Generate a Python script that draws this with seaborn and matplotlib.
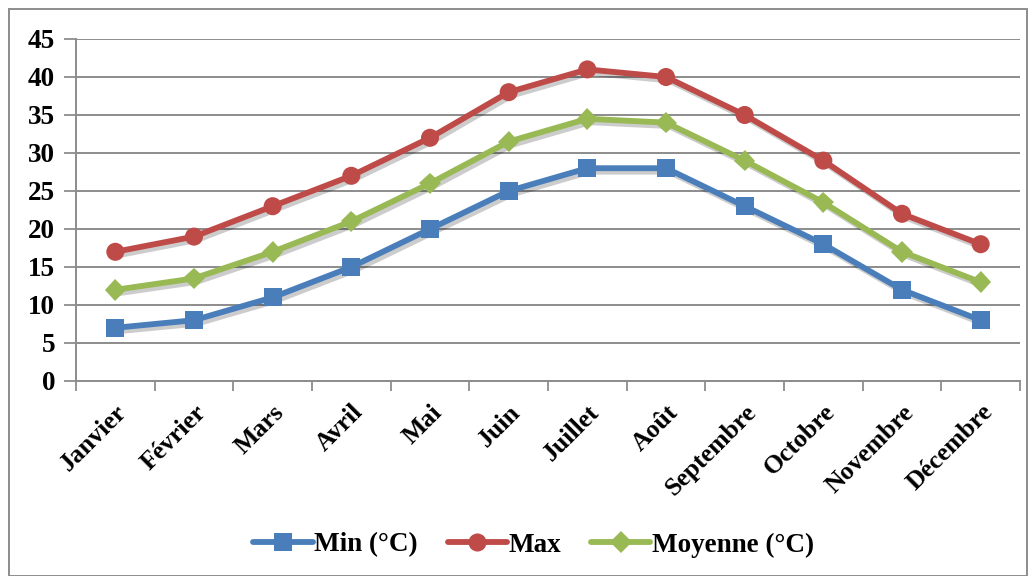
import matplotlib
matplotlib.use("Agg")
import matplotlib.pyplot as plt
import matplotlib.patheffects as pe
from matplotlib.patches import Rectangle
from matplotlib.lines import Line2D
import numpy as np
import pandas as pd
import seaborn as sns

months = ["Janvier", "Février", "Mars", "Avril", "Mai", "Juin", "Juillet",
          "Août", "Septembre", "Octobre", "Novembre", "Décembre"]
t_min = [7, 8, 11, 15, 20, 25, 28, 28, 23, 18, 12, 8]
t_max = [17, 19, 23, 27, 32, 38, 41, 40, 35, 29, 22, 18]
t_moy = [12, 13.5, 17, 21, 26, 31.5, 34.5, 34, 29, 23.5, 17, 13]
series_names = ["Min (°C)", "Max", "Moyenne (°C)"]
y_ticks = [0, 5, 10, 15, 20, 25, 30, 35, 40, 45]

sns.set_theme(style="white")
plt.rcParams['font.family'] = ['Liberation Serif', 'DejaVu Serif']
plt.rcParams['font.weight'] = 'bold'
plt.rcParams['text.color'] = 'black'
plt.rcParams['xtick.color'] = 'black'
plt.rcParams['ytick.color'] = 'black'

fig = plt.figure(figsize=(10.36, 5.76), dpi=100)
ax = fig.add_axes([76/1036, 1-381/576, (1020-76)/1036, (381-39)/576])

colors = ["#4A7EBB", "#BE4B48", "#98B954"]
markers = ["s", "o", "D"]
msizes = [13, 13, 11]
pos = np.arange(len(months))
shadow = [pe.SimpleLineShadow(offset=(2, -2.5), shadow_color='black', alpha=0.2), pe.Normal()]

for vals, name, c, m, ms in zip([t_min, t_max, t_moy], series_names, colors, markers, msizes):
    df = pd.DataFrame({"x": pos, "y": vals})
    sns.lineplot(data=df, x="x", y="y", ax=ax, color=c, linewidth=4.2,
                 marker=m, markersize=ms, markeredgecolor=c, markeredgewidth=0,
                 path_effects=shadow, zorder=3, legend=False)

ax.set_xlim(-0.5, 11.5)
ax.set_ylim(0, 45)
ax.set_yticks(y_ticks)
ax.set_yticklabels([str(v) for v in y_ticks], fontsize=19.5, fontweight='bold')
ax.set_xticks(pos)
ax.set_xticklabels(months, rotation=45, ha='right', va='top', rotation_mode='anchor',
                   fontsize=18.5, fontweight='bold')
ax.set_xticks(np.arange(-0.5, 12, 1), minor=True)
ax.tick_params(axis='x', which='major', bottom=False, length=0, pad=14)
ax.tick_params(axis='x', which='minor', bottom=True, length=7, width=1.3, color='#8c8c8c', direction='out')
ax.tick_params(axis='y', left=True, length=9, width=1.3, color='#8c8c8c', labelcolor='black',
               direction='out', pad=6)
ax.set_xlabel("")
ax.set_ylabel("")
ax.grid(axis='y', color='#8c8c8c', linewidth=1.4)
ax.grid(axis='x', visible=False)
for s in ['top', 'right']:
    ax.spines[s].set_visible(False)
for s in ['left', 'bottom']:
    ax.spines[s].set_color('#8c8c8c')
    ax.spines[s].set_linewidth(1.4)

handles = [Line2D([0], [0], color=c, linewidth=4.2, marker=m, markersize=ms,
                  markeredgewidth=0) for c, m, ms in zip(colors, markers, msizes)]
fig.legend(handles, series_names, loc='center', bbox_to_anchor=(0.515, 1-545/576),
           ncol=3, frameon=False, handlelength=2.2, handletextpad=0.05, columnspacing=1.1,
           prop={'family': 'Liberation Serif', 'weight': 'bold', 'size': 19.5})

fig.patches.append(Rectangle((9/1036, 0), (1027-9)/1036, 1-9/576, transform=fig.transFigure,
                             fill=False, edgecolor='#8c8c8c', linewidth=1.4))

fig.savefig("out.png", dpi=100)
